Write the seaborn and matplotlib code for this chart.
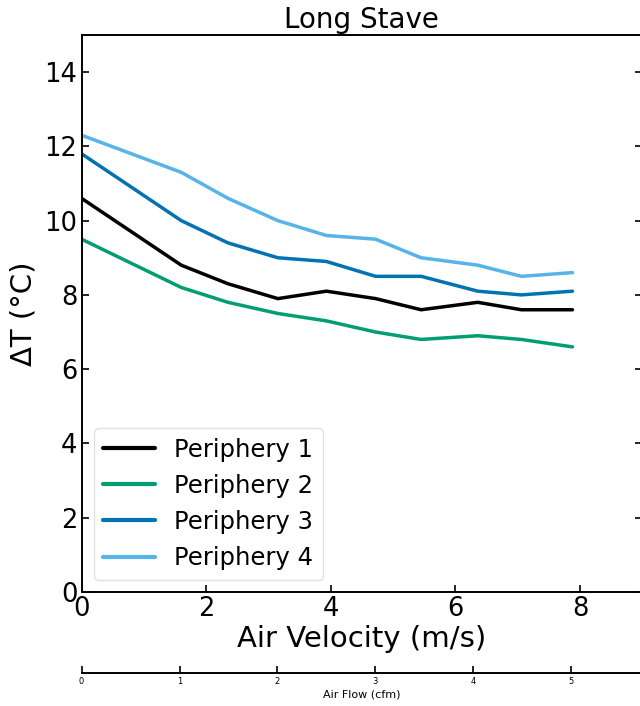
import matplotlib
matplotlib.use("Agg")
import matplotlib.pyplot as plt
import seaborn as sns
import pandas as pd

# air velocity (m/s)
velocity = [0, 1.6, 2.35, 3.15, 3.93, 4.72, 5.45, 6.36, 7.06, 7.88]

periphery_1 = [10.6, 8.8, 8.3, 7.9, 8.1, 7.9, 7.6, 7.8, 7.6, 7.6]
periphery_2 = [9.5, 8.2, 7.8, 7.5, 7.3, 7.0, 6.8, 6.9, 6.8, 6.6]
periphery_3 = [11.8, 10.0, 9.4, 9.0, 8.9, 8.5, 8.5, 8.1, 8.0, 8.1]
periphery_4 = [12.3, 11.3, 10.6, 10.0, 9.6, 9.5, 9.0, 8.8, 8.5, 8.6]

series_names = ["Periphery 1", "Periphery 2", "Periphery 3", "Periphery 4"]
series_colors = ["black", "#029E73", "#0173B2", "#56B4E9"]

cfm_ticks = [0, 1, 2, 3, 4, 5]

sns.set_style("ticks")
plt.rcParams["font.family"] = ["DejaVu Sans"]
for k in ["text.color", "axes.labelcolor", "xtick.color", "ytick.color", "axes.edgecolor"]:
    plt.rcParams[k] = "black"

df = pd.DataFrame({"velocity": velocity * 4,
                   "dT": periphery_1 + periphery_2 + periphery_3 + periphery_4,
                   "series": sum([[n] * len(velocity) for n in series_names], [])})

fig = plt.figure(figsize=(6.4, 7.06), dpi=100)
ax = fig.add_axes([0.1275, 0.1615, 0.876, 0.789])

sns.lineplot(data=df, x="velocity", y="dT", hue="series",
             palette=dict(zip(series_names, series_colors)),
             linewidth=2.5, ax=ax)

ax.set_xlim(0, 9)
ax.set_ylim(0, 15)
ax.set_xticks([0, 2, 4, 6, 8])
ax.set_yticks([0, 2, 4, 6, 8, 10, 12, 14])
ax.tick_params(direction="in", top=True, right=True, labelsize=18.5,
               length=5, width=1.2, pad=3)
for s in ax.spines.values():
    s.set_linewidth(1.4)
ax.set_xlabel("Air Velocity (m/s)", fontsize=21, labelpad=2)
ax.set_ylabel("ΔT (°C)", fontsize=21, labelpad=5)
ax.set_title("Long Stave", fontsize=20, pad=5)

leg = ax.legend(loc="lower left", fontsize=17.5, frameon=True,
                handlelength=2.1)
leg.get_frame().set_edgecolor("#d9d9d9")
for line in leg.get_lines():
    line.set_linewidth(3)

# second axis for air flow
ax2 = ax.twiny()
ax2.set_xlim(0, 5.725)
ax2.set_xticks(cfm_ticks)
ax2.xaxis.set_ticks_position("bottom")
ax2.xaxis.set_label_position("bottom")
ax2.spines["bottom"].set_position(("outward", 58))
ax2.spines["bottom"].set_linewidth(1.4)
for side in ["top", "left", "right"]:
    ax2.spines[side].set_visible(False)
ax2.tick_params(axis="x", direction="in", labelsize=6, length=5, width=1.2, pad=3)
ax2.set_xlabel("Air Flow (cfm)", fontsize=8, labelpad=3)

fig.savefig("out.png", dpi=100)
